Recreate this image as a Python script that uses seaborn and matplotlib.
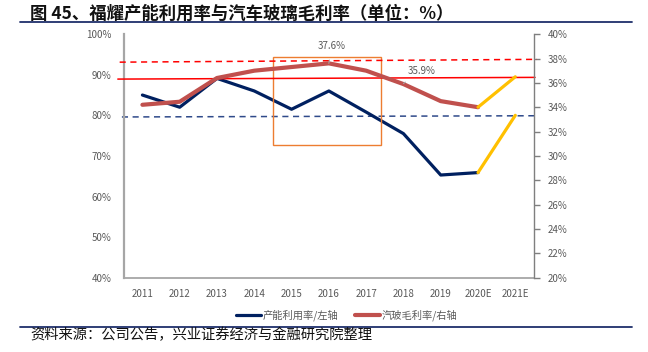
import matplotlib
matplotlib.use('Agg')
import matplotlib.pyplot as plt
import pandas as pd
import seaborn as sns
from matplotlib.patches import Rectangle
from matplotlib.lines import Line2D

# data
years = ['2011', '2012', '2013', '2014', '2015', '2016', '2017', '2018', '2019', '2020E', '2021E']
utilization = [85.0, 82.0, 89.1, 86.0, 81.5, 86.0, 80.8, 75.5, 65.3, 65.9, 80.0]   # left axis, %
gross_margin = [34.2, 34.45, 36.4, 37.0, 37.3, 37.6, 37.0, 35.9, 34.5, 34.0, 36.5]  # right axis, %

sns.set_style('white')
plt.rcParams['font.family'] = ['Noto Sans CJK SC', 'DejaVu Sans']

df = pd.DataFrame({'idx': range(len(years)), 'year': years,
                   'util': utilization, 'margin': gross_margin})
hist = df.iloc[:10]
proj = df.iloc[9:]

navy = '#002060'
red = '#C0504D'
yellow = '#FFC000'
gray = '#595959'

fig = plt.figure(figsize=(6.48, 3.52), dpi=100)
ax = fig.add_axes([0.191, 0.211, 0.633, 0.692])
ax2 = ax.twinx()

# left axis: capacity utilization
sns.lineplot(data=hist, x='idx', y='util', ax=ax, color=navy, lw=2.3, zorder=3)
sns.lineplot(data=proj, x='idx', y='util', ax=ax, color=yellow, lw=2.3, zorder=3)

# right axis: gross margin
sns.lineplot(data=hist, x='idx', y='margin', ax=ax2, color=red, lw=3, zorder=3)
sns.lineplot(data=proj, x='idx', y='margin', ax=ax2, color=yellow, lw=2.3, zorder=3)

ax.set_xlim(-0.5, len(years) - 0.5)
ax.set_ylim(40, 100)
ax2.set_ylim(20, 40)
ax.set_xticks(range(len(years)))
ax.set_xticklabels(years)
ax.set_yticks(range(40, 101, 10))
ax.set_yticklabels([f'{v}%' for v in range(40, 101, 10)])
ax2.set_yticks(range(20, 41, 2))
ax2.set_yticklabels([f'{v}%' for v in range(20, 41, 2)])
ax.set_xlabel('')
ax.set_ylabel('')
ax2.set_ylabel('')

ax.tick_params(axis='both', length=0, labelsize=7, labelcolor=gray)
ax.tick_params(axis='y', pad=9)
ax.tick_params(axis='x', pad=8)
ax2.tick_params(axis='y', length=4, width=1, color='#7F7F7F', direction='out',
                labelsize=7, labelcolor=gray, pad=6)

for a in (ax, ax2):
    for s in a.spines.values():
        s.set_visible(False)
ax.spines['left'].set_visible(True)
ax.spines['left'].set_color('#A6A6A6')
ax.spines['left'].set_linewidth(1.6)
ax.spines['bottom'].set_visible(True)
ax.spines['bottom'].set_color('#A6A6A6')
ax.spines['bottom'].set_linewidth(1.3)
ax2.spines['right'].set_visible(True)
ax2.spines['right'].set_color('#7F7F7F')
ax2.spines['right'].set_linewidth(1.0)

# reference lines
ax2.plot([-0.61, 10.58], [37.70, 37.93], color='#FF0000', lw=1.1, ls=(0, (4, 3)),
         clip_on=False, zorder=2)
ax2.plot([-0.66, 10.53], [36.31, 36.45], color='#FF0000', lw=1.1, clip_on=False, zorder=2)
ax.plot([-0.55, 10.6], [79.6, 79.9], color='#2F4A8A', lw=1.1, ls=(0, (4, 3)),
        clip_on=False, zorder=2)

# highlight box
ax.add_patch(Rectangle((3.49, 72.8), 2.91, 21.5, fill=False, edgecolor='#ED7D31',
                       lw=1.0, zorder=4))

# data labels
ax2.annotate('37.6%', xy=(5.0, 37.6), xytext=(5.07, 39.0), ha='center', va='center',
             fontsize=7, color=gray,
             arrowprops=dict(arrowstyle='-', color='#A6A6A6', lw=0.8, shrinkA=4, shrinkB=0))
ax2.annotate('35.9%', xy=(7.0, 35.95), xytext=(7.49, 37.0), ha='center', va='center',
             fontsize=7, color=gray,
             arrowprops=dict(arrowstyle='-', color='#A6A6A6', lw=0.8, shrinkA=4, shrinkB=0))

# legend
handles = [Line2D([], [], color=navy, lw=2.3), Line2D([], [], color=red, lw=3)]
fig.legend(handles, ['产能利用率/左轴', '汽玻毛利率/右轴'], loc='center',
           bbox_to_anchor=(0.535, 0.105), ncol=2, frameon=False, fontsize=7.4,
           labelcolor=gray, handlelength=2.4, handletextpad=0.2, columnspacing=1.6)

# title, source and rules
fig.text(0.046, 0.962, '图 45、福耀产能利用率与汽车玻璃毛利率（单位：%）', fontsize=12.5,
         weight='bold', va='center', ha='left', color='#111111')
fig.text(0.046, 0.048, '资料来源：公司公告，兴业证券经济与金融研究院整理', fontsize=10.3,
         va='center', ha='left', color='#111111')
fig.add_artist(Line2D([0.031, 0.975], [0.937, 0.937], color='#1F2F6B', lw=1.3))
fig.add_artist(Line2D([0.031, 0.975], [0.072, 0.072], color='#1F2F6B', lw=1.3))

fig.savefig('out.png', dpi=100)
